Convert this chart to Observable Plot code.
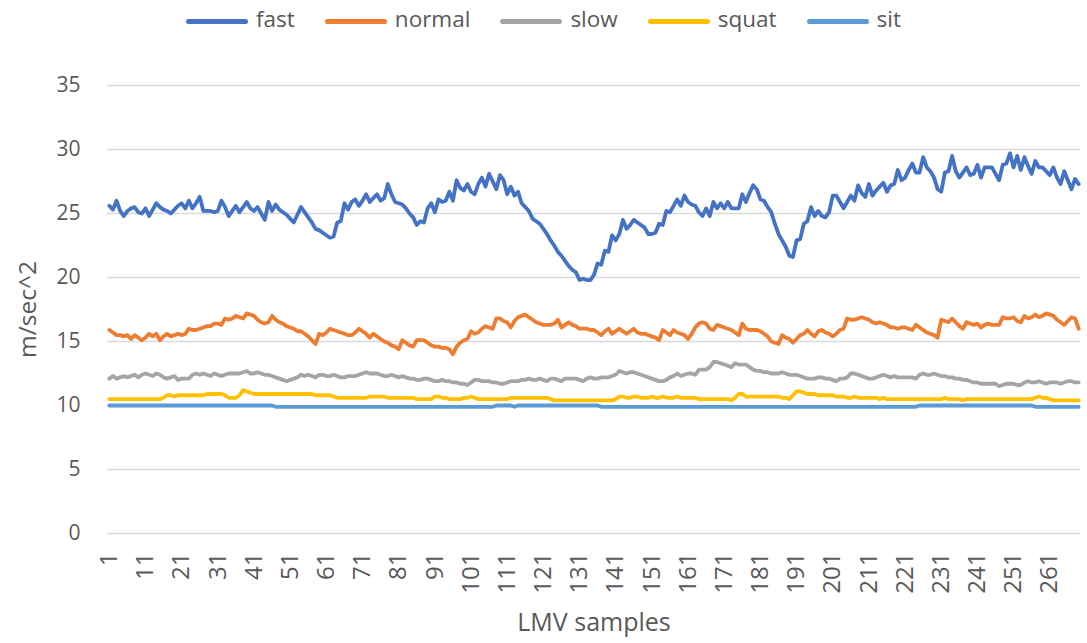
<!DOCTYPE html>
<html>
<head>
<meta charset="utf-8">
<script src="https://cdn.jsdelivr.net/npm/d3@7"></script>
<script src="https://cdn.jsdelivr.net/npm/@observablehq/plot@0.6"></script>
<style>
  html, body { margin: 0; padding: 0; background: #fff; }
  body { width: 1087px; height: 643px; overflow: hidden; font-family: "Open Sans", sans-serif; }
  #legend { height: 42px; display: flex; justify-content: center; align-items: center; gap: 30px; color: #595959; font-size: 22.5px; box-sizing: border-box; }
  #legend .item { display: flex; align-items: center; gap: 8px; }
  #legend .sw { width: 62px; height: 5px; border-radius: 3px; }
  #legend span.t { line-height: 1; position: relative; top: -2px; }
</style>
</head>
<body>
<div id="legend"></div>
<div id="chart"></div>
<script>
const seriesNames = ["fast", "normal", "slow", "squat", "sit"];
const seriesColors = ["#4472C4", "#ED7D31", "#A5A5A5", "#FFC000", "#5B9BD5"];
const yTicks = [0, 5, 10, 15, 20, 25, 30, 35];
const xTicks = [1, 11, 21, 31, 41, 51, 61, 71, 81, 91, 101, 111, 121, 131, 141, 151, 161, 171, 181, 191, 201, 211, 221, 231, 241, 251, 261];

const fast = [
25.6,25.3,26.0,25.2,24.8,25.2,25.4,25.5,25.1,25.0,
25.4,24.8,25.3,25.8,25.5,25.3,25.2,25.0,25.3,25.6,
25.8,25.4,26.0,25.4,25.8,26.3,25.2,25.2,25.2,25.1,
25.2,26.0,25.5,24.8,25.2,25.6,25.1,25.5,25.9,25.4,
25.2,25.5,25.0,24.5,25.9,25.2,25.7,25.3,25.1,24.9,
24.6,24.3,24.9,25.5,25.1,24.7,24.3,23.8,23.7,23.5,
23.3,23.1,23.2,24.3,24.4,25.8,25.3,25.9,26.1,25.6,
26.0,26.5,25.9,26.2,26.5,26.0,26.2,27.3,26.5,25.9,
25.8,25.7,25.4,25.0,24.7,24.1,24.4,24.3,25.4,25.8,
25.1,26.1,25.9,26.0,26.7,26.0,27.6,27.0,26.8,27.3,
26.7,26.5,27.3,27.8,27.1,28.1,27.5,26.9,28.0,27.6,
26.5,27.1,26.4,26.7,25.8,25.5,25.2,24.6,24.4,24.2,
23.8,23.4,22.9,22.5,22.0,21.7,21.3,20.9,20.6,20.4,
19.8,19.9,19.8,19.8,20.2,21.1,21.0,22.1,22.0,23.3,
22.9,23.4,24.5,23.8,24.1,24.5,24.3,24.1,23.9,23.4,
23.4,23.5,24.2,24.1,25.2,25.1,25.6,26.1,25.6,26.4,
25.9,25.7,25.6,25.1,24.8,25.4,24.8,25.9,25.4,25.8,
25.4,25.9,25.4,25.4,25.4,26.5,25.9,26.6,27.2,26.9,
26.1,26.0,25.5,25.1,24.2,23.4,22.9,22.4,21.7,21.6,
22.9,23.0,24.2,24.4,25.5,24.8,25.2,24.8,24.7,25.1,
26.4,26.4,25.9,25.4,25.9,26.4,26.0,27.2,26.6,26.3,
27.3,26.4,26.8,27.1,27.4,26.7,27.2,27.3,28.4,27.6,
27.8,28.4,28.9,28.2,28.2,29.4,28.6,28.3,27.8,26.9,
26.7,28.2,28.3,29.5,28.3,27.8,28.2,28.6,28.0,28.1,
28.8,27.8,28.6,28.6,28.6,28.1,27.6,28.8,28.9,29.7,
28.6,29.5,28.4,29.4,28.7,28.1,29.1,28.6,28.6,28.3,
28.0,28.6,27.8,27.3,28.3,27.6,26.9,27.7,27.3
];

const normal = [
15.9,15.7,15.5,15.5,15.4,15.5,15.2,15.5,15.3,15.1,
15.3,15.6,15.4,15.6,15.1,15.4,15.6,15.4,15.5,15.6,
15.5,15.6,16.0,15.9,15.9,16.0,16.1,16.2,16.2,16.4,
16.4,16.3,16.8,16.7,16.8,17.0,16.9,16.8,17.2,17.1,
17.0,16.7,16.5,16.4,16.5,17.0,16.7,16.5,16.4,16.2,
16.1,16.0,15.8,15.8,15.6,15.4,15.1,14.8,15.6,15.5,
15.7,16.0,15.9,15.8,15.7,15.6,15.5,15.5,15.7,16.0,
15.8,15.6,15.3,15.6,15.4,15.2,15.0,14.9,14.7,14.6,
14.4,15.1,14.9,14.7,14.6,15.1,15.1,15.1,14.9,14.7,
14.6,14.6,14.5,14.5,14.4,14.0,14.6,14.9,15.1,15.2,
15.8,15.6,15.7,16.0,16.2,16.1,16.0,16.8,16.8,16.6,
16.5,16.1,16.6,16.9,17.0,17.1,16.9,16.7,16.5,16.4,
16.3,16.3,16.3,16.4,16.7,16.1,16.3,16.5,16.3,16.2,
16.0,16.0,16.0,15.9,15.9,15.7,15.5,15.8,16.0,15.6,
15.8,16.0,15.8,15.6,15.8,16.0,15.7,15.6,15.6,15.5,
15.4,15.3,15.1,15.9,15.7,15.5,15.9,15.7,15.6,15.5,
15.2,15.6,16.1,16.4,16.5,16.4,16.0,15.9,16.3,16.2,
16.1,16.0,15.9,15.7,15.5,16.4,16.0,15.9,15.9,15.9,
15.8,15.6,15.4,15.0,14.9,14.8,15.5,15.3,15.2,14.9,
15.2,15.5,15.6,15.9,15.6,15.4,15.8,15.9,15.7,15.6,
15.4,15.6,15.9,16.0,16.8,16.7,16.7,16.8,16.9,16.8,
16.7,16.5,16.4,16.5,16.4,16.3,16.1,16.1,16.0,16.1,
16.1,16.0,15.9,16.3,16.1,15.9,15.7,15.6,15.5,15.3,
16.7,16.6,16.5,16.8,16.5,16.2,16.0,16.5,16.4,16.3,
16.4,16.1,16.3,16.4,16.3,16.3,16.3,16.9,16.8,16.8,
16.9,16.6,16.5,17.0,16.8,16.9,17.1,16.9,17.0,17.2,
17.1,17.0,16.7,16.5,16.3,16.6,16.9,16.8,16.0
];

const slow = [
12.1,12.3,12.1,12.2,12.3,12.2,12.3,12.4,12.2,12.4,
12.5,12.4,12.3,12.5,12.4,12.2,12.1,12.2,12.3,12.0,
12.1,12.1,12.1,12.4,12.5,12.4,12.5,12.4,12.3,12.5,
12.4,12.3,12.4,12.5,12.5,12.5,12.5,12.6,12.7,12.5,
12.5,12.6,12.5,12.4,12.4,12.3,12.2,12.1,12.0,11.9,
12.0,12.1,12.2,12.4,12.3,12.4,12.3,12.2,12.4,12.4,
12.3,12.3,12.4,12.3,12.2,12.2,12.3,12.3,12.3,12.4,
12.5,12.6,12.5,12.5,12.5,12.4,12.3,12.3,12.4,12.3,
12.2,12.3,12.2,12.1,12.1,12.0,12.0,12.1,12.1,12.0,
11.9,11.9,12.0,11.9,11.9,11.8,11.8,11.7,11.7,11.6,
11.8,12.0,12.0,11.9,11.9,11.9,11.8,11.8,11.7,11.7,
11.8,11.9,11.9,11.9,12.0,12.0,12.1,12.0,12.0,12.1,
12.0,11.9,12.1,12.1,12.0,11.9,12.1,12.1,12.1,12.1,
12.0,11.9,12.1,12.2,12.1,12.1,12.2,12.2,12.2,12.3,
12.4,12.7,12.6,12.5,12.6,12.6,12.5,12.4,12.3,12.2,
12.1,12.0,11.9,11.9,12.0,12.2,12.3,12.5,12.3,12.4,
12.5,12.5,12.4,12.8,12.8,12.8,13.0,13.4,13.4,13.3,
13.2,13.1,13.0,13.3,13.2,13.2,13.2,13.0,12.8,12.7,
12.7,12.6,12.6,12.5,12.5,12.5,12.6,12.5,12.4,12.4,
12.4,12.3,12.2,12.1,12.1,12.1,12.2,12.2,12.1,12.1,
12.0,11.9,12.1,12.1,12.2,12.5,12.5,12.4,12.3,12.2,
12.1,12.1,12.2,12.3,12.4,12.3,12.2,12.3,12.2,12.2,
12.2,12.2,12.2,12.1,12.4,12.5,12.4,12.4,12.5,12.4,
12.3,12.3,12.2,12.2,12.1,12.1,12.0,12.0,11.9,11.8,
11.8,11.7,11.7,11.7,11.7,11.7,11.5,11.6,11.7,11.7,
11.7,11.6,11.6,11.8,11.9,11.8,11.8,11.9,11.8,11.7,
11.8,11.8,11.8,11.7,11.8,11.9,11.9,11.8,11.8
];

const squat = [
10.5,10.5,10.5,10.5,10.5,10.5,10.5,10.5,10.5,10.5,
10.5,10.5,10.5,10.5,10.5,10.6,10.8,10.8,10.7,10.8,
10.8,10.8,10.8,10.8,10.8,10.8,10.8,10.9,10.9,10.9,
10.9,10.9,10.8,10.6,10.6,10.6,10.8,11.2,11.1,11.0,
10.9,10.9,10.9,10.9,10.9,10.9,10.9,10.9,10.9,10.9,
10.9,10.9,10.9,10.9,10.9,10.9,10.9,10.8,10.8,10.8,
10.8,10.8,10.7,10.6,10.6,10.6,10.6,10.6,10.6,10.6,
10.6,10.6,10.7,10.7,10.7,10.7,10.7,10.6,10.6,10.6,
10.6,10.6,10.6,10.6,10.6,10.5,10.5,10.5,10.5,10.5,
10.7,10.7,10.6,10.6,10.5,10.5,10.5,10.5,10.6,10.6,
10.7,10.6,10.5,10.5,10.5,10.5,10.5,10.5,10.5,10.5,
10.5,10.6,10.6,10.6,10.6,10.6,10.6,10.6,10.6,10.6,
10.6,10.6,10.5,10.4,10.4,10.4,10.4,10.4,10.4,10.4,
10.4,10.4,10.4,10.4,10.4,10.4,10.4,10.4,10.4,10.4,
10.5,10.7,10.7,10.6,10.6,10.7,10.7,10.6,10.6,10.6,
10.7,10.6,10.6,10.7,10.6,10.6,10.6,10.7,10.6,10.6,
10.6,10.6,10.6,10.5,10.5,10.5,10.5,10.5,10.5,10.5,
10.5,10.5,10.4,10.6,10.9,10.9,10.7,10.7,10.7,10.7,
10.7,10.7,10.7,10.7,10.7,10.7,10.6,10.6,10.5,10.8,
11.1,11.1,11.0,10.9,10.9,10.9,10.8,10.8,10.8,10.8,
10.8,10.7,10.7,10.7,10.6,10.6,10.7,10.6,10.6,10.6,
10.6,10.6,10.6,10.5,10.6,10.5,10.5,10.5,10.5,10.5,
10.5,10.5,10.5,10.5,10.5,10.5,10.5,10.5,10.5,10.5,
10.5,10.6,10.5,10.5,10.5,10.5,10.4,10.5,10.5,10.5,
10.5,10.5,10.5,10.5,10.5,10.5,10.5,10.5,10.5,10.5,
10.5,10.5,10.5,10.5,10.5,10.5,10.6,10.7,10.6,10.6,
10.5,10.4,10.4,10.4,10.4,10.4,10.4,10.4,10.4
];

const sit = [
10.0,10.0,10.0,10.0,10.0,10.0,10.0,10.0,10.0,10.0,
10.0,10.0,10.0,10.0,10.0,10.0,10.0,10.0,10.0,10.0,
10.0,10.0,10.0,10.0,10.0,10.0,10.0,10.0,10.0,10.0,
10.0,10.0,10.0,10.0,10.0,10.0,10.0,10.0,10.0,10.0,
10.0,10.0,10.0,10.0,10.0,10.0,9.9,9.9,9.9,9.9,
9.9,9.9,9.9,9.9,9.9,9.9,9.9,9.9,9.9,9.9,
9.9,9.9,9.9,9.9,9.9,9.9,9.9,9.9,9.9,9.9,
9.9,9.9,9.9,9.9,9.9,9.9,9.9,9.9,9.9,9.9,
9.9,9.9,9.9,9.9,9.9,9.9,9.9,9.9,9.9,9.9,
9.9,9.9,9.9,9.9,9.9,9.9,9.9,9.9,9.9,9.9,
9.9,9.9,9.9,9.9,9.9,9.9,9.9,10.0,10.0,10.0,
10.0,10.0,9.9,10.0,10.0,10.0,10.0,10.0,10.0,10.0,
10.0,10.0,10.0,10.0,10.0,10.0,10.0,10.0,10.0,10.0,
10.0,10.0,10.0,10.0,10.0,10.0,9.9,9.9,9.9,9.9,
9.9,9.9,9.9,9.9,9.9,9.9,9.9,9.9,9.9,9.9,
9.9,9.9,9.9,9.9,9.9,9.9,9.9,9.9,9.9,9.9,
9.9,9.9,9.9,9.9,9.9,9.9,9.9,9.9,9.9,9.9,
9.9,9.9,9.9,9.9,9.9,9.9,9.9,9.9,9.9,9.9,
9.9,9.9,9.9,9.9,9.9,9.9,9.9,9.9,9.9,9.9,
9.9,9.9,9.9,9.9,9.9,9.9,9.9,9.9,9.9,9.9,
9.9,9.9,9.9,9.9,9.9,9.9,9.9,9.9,9.9,9.9,
9.9,9.9,9.9,9.9,9.9,9.9,9.9,9.9,9.9,9.9,
9.9,9.9,9.9,9.9,10.0,10.0,10.0,10.0,10.0,10.0,
10.0,10.0,10.0,10.0,10.0,10.0,10.0,10.0,10.0,10.0,
10.0,10.0,10.0,10.0,10.0,10.0,10.0,10.0,10.0,10.0,
10.0,10.0,10.0,10.0,10.0,10.0,9.9,9.9,9.9,9.9,
9.9,9.9,9.9,9.9,9.9,9.9,9.9,9.9,9.9
];

const seriesValues = [fast, normal, slow, squat, sit];
const N = fast.length;

// legend
const legend = document.getElementById("legend");
seriesNames.forEach((name, k) => {
  const item = document.createElement("div");
  item.className = "item";
  const sw = document.createElement("div");
  sw.className = "sw";
  sw.style.background = seriesColors[k];
  const t = document.createElement("span");
  t.className = "t";
  t.textContent = name;
  item.appendChild(sw);
  item.appendChild(t);
  legend.appendChild(item);
});

const data = seriesNames.flatMap((name, k) =>
  seriesValues[k].map((v, i) => ({sample: i + 1, value: v, series: name}))
);

const chart = Plot.plot({
  width: 1087,
  height: 601,
  marginTop: 43,
  marginBottom: 110,
  marginLeft: 107,
  marginRight: 7,
  style: {fontFamily: '"Open Sans", sans-serif', color: "#595959", background: "#fff"},
  x: {domain: [0.5, N + 0.5]},
  y: {domain: [0, 35]},
  color: {domain: seriesNames, range: seriesColors},
  marks: [
    Plot.gridY(yTicks, {stroke: "#D9D9D9", strokeOpacity: 1, strokeWidth: 1.3}),
    Plot.axisY(yTicks, {tickSize: 0, tickPadding: 27, fontSize: 21, fill: "#595959", label: null}),
    Plot.axisX(xTicks, {tickSize: 0, tickPadding: 19, tickRotate: -90, fontSize: 24, fill: "#595959", label: null}),
    Plot.lineY(data, {x: "sample", y: "value", z: "series", stroke: "series", strokeWidth: 3.8, strokeLinejoin: "round", strokeLinecap: "round"}),
    Plot.text(["m/sec^2"], {text: d => d, frameAnchor: "left", textAnchor: "middle", dx: -79, rotate: -90, fontSize: 24.5, fill: "#595959"}),
    Plot.text(["LMV samples"], {text: d => d, frameAnchor: "bottom", dy: 97, fontSize: 25, fill: "#595959"})
  ]
});
document.getElementById("chart").appendChild(chart);
</script>
</body>
</html>
